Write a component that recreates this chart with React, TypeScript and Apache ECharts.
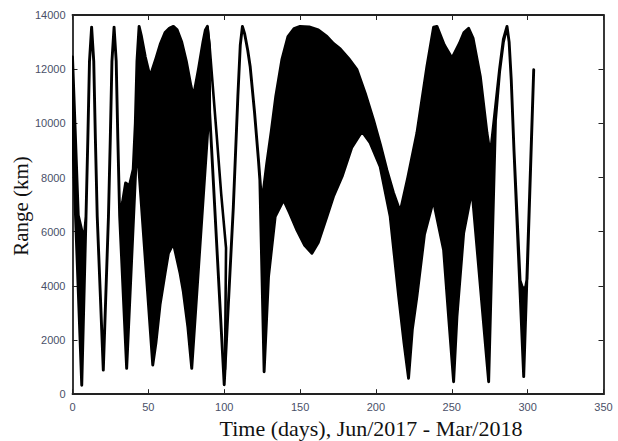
import React, { useEffect, useRef } from "react";
import * as echarts from "echarts";

// Axis tick values
const xTickValues = [0, 50, 100, 150, 200, 250, 300, 350];
const yTickValues = [0, 2000, 4000, 6000, 8000, 10000, 12000, 14000];

// Upper edge of the plotted range trace: [day, range km]
const upperEdge: [number, number][] = [
  [0, 12450], [1.8, 9700], [3.8, 6600], [5.5, 6200], [7.6, 5700], [8.9, 6560],
  [10.1, 9400], [11.2, 12300], [12.6, 13550], [14.0, 12300], [15.1, 9400], [16.3, 6560],
  [20.3, 890], [23.7, 6560], [24.9, 9400], [26.0, 12300], [27.4, 13550], [28.8, 12300],
  [29.9, 9400], [31.1, 6560], [33, 7100], [35, 7800], [37.5, 7700], [40, 8300],
  [41.4, 10000], [42.5, 12300], [43.9, 13580], [45.3, 13250], [48, 12450], [51.1, 11730],
  [55, 12400], [58, 12950], [61, 13350], [64, 13520], [66.5, 13580], [69, 13450],
  [72, 13000], [75, 12300], [78, 11400], [79.7, 10990], [83, 12000], [86, 13000],
  [87.6, 13450], [88.9, 13580], [90.2, 12860], [90.4, 10400], [100, 350], [106, 6900],
  [109, 11000], [110.6, 12900], [112, 13580], [113.5, 13300], [115.5, 12700], [117.1, 12100],
  [120, 10400], [122.5, 8700], [124.8, 7050], [128, 8500], [131, 9700], [134, 11000],
  [138, 12350], [142, 13200], [146, 13500], [150, 13580], [156, 13560], [162, 13450],
  [167.7, 13210], [172, 12950], [176.5, 12750], [182, 12400], [187.5, 11980], [193, 11100],
  [198.4, 10130], [203, 9200], [207.2, 8280], [211.5, 7450], [216, 6740], [221, 8000],
  [227, 9640], [233.6, 12100], [238, 13550], [240.2, 13580], [245, 12900], [250.1, 12410],
  [255, 12950], [258, 13350], [261.1, 13510], [264, 13150], [268.8, 11730], [273.2, 9640],
  [275.4, 8840], [281.5, 12000], [284, 13100], [286.4, 13580], [287.8, 13000], [289.2, 11600],
  [291, 9000], [295, 4200], [296.5, 3950], [298.5, 3900], [299.6, 4250], [304, 11980],
];

// Lower edge of the plotted range trace: [day, range km]
const lowerEdge: [number, number][] = [
  [0, 9600], [6.1, 330], [8.9, 6560], [10.1, 9400], [11.2, 12300], [12.6, 13550],
  [14.0, 12300], [15.1, 9400], [16.3, 6560], [20.3, 890], [23.7, 6560], [24.9, 9400],
  [26.0, 12300], [27.4, 13550], [28.8, 12300], [29.9, 9400], [31.1, 6560], [35.7, 955],
  [42.5, 9300], [52.9, 1080], [55, 1900], [57.7, 3300], [61, 4460], [63.2, 5200],
  [66.5, 5570], [70.9, 4470], [73, 3800], [76, 2500], [78.6, 955], [90.2, 10620],
  [100, 350], [106, 6900], [109, 11000], [110.6, 12900], [112, 13580], [113.5, 13300],
  [115.5, 12700], [117.1, 12100], [120, 10400], [122.5, 8700], [123.5, 7900], [126.3, 830],
  [129.2, 4340], [133.6, 6560], [139.1, 7170], [143, 6700], [148, 6050], [153, 5500],
  [157.8, 5200], [162, 5600], [167.7, 6560], [172, 7300], [177.7, 8040], [184, 9100],
  [190.8, 9700], [196, 9300], [202.8, 8400], [209.4, 6560], [215, 3600], [218.5, 1900],
  [221.5, 590], [224, 2400], [227, 3600], [232, 5900], [238, 7170], [239.1, 6800],
  [244.6, 5330], [247.9, 2860], [251.2, 460], [253.4, 2860], [257.8, 5940], [263.3, 7540],
  [267.7, 4710], [274.3, 460], [278.8, 10100], [281.5, 11900], [284, 13000], [286.4, 13580],
  [287.8, 13000], [289.2, 11600], [291, 9000], [297.4, 650], [304, 11980],
];

// A separate descending strand after the day-89 peak
const strandA: [number, number][] = [
  [88.9, 13580], [90.3, 12900], [92, 11700], [95, 9580], [98, 7400], [101.2, 5400], [100.5, 900],
];

const X_TITLE = "Time (days), Jun/2017 - Mar/2018";
const Y_TITLE = "Range (km)";

export default function App() {
  const ref = useRef<HTMLDivElement>(null);

  useEffect(() => {
    if (!ref.current) return;
    const chart = echarts.init(ref.current, undefined, { renderer: "svg" });
    const frameColor = "#222";
    const labelStyle = {
      fontSize: 11,
      fontFamily: "Liberation Sans",
      color: "#4a5068",
      formatter: (v: number) => String(v),
    };
    const baseX = {
      type: "value" as const,
      min: xTickValues[0],
      max: xTickValues[xTickValues.length - 1],
      interval: 50,
      splitLine: { show: false },
      axisLine: { show: true, onZero: false, lineStyle: { color: frameColor, width: 1.8 } },
      axisTick: { show: true, inside: true, length: 5, lineStyle: { color: frameColor, width: 1 } },
    };
    const baseY = {
      type: "value" as const,
      min: yTickValues[0],
      max: yTickValues[yTickValues.length - 1],
      interval: 2000,
      splitLine: { show: false },
      axisLine: { show: true, onZero: false, lineStyle: { color: frameColor, width: 1.8 } },
      axisTick: { show: true, inside: true, length: 5, lineStyle: { color: frameColor, width: 1 } },
    };

    chart.setOption({
      animation: false,
      backgroundColor: "#fff",
      grid: { left: 72.5, top: 15, width: 531, height: 379.2, containLabel: false },
      xAxis: [
        { ...baseX, position: "bottom", axisLabel: { ...labelStyle, margin: 7 } },
        { ...baseX, position: "top", axisLabel: { show: false } },
      ],
      yAxis: [
        { ...baseY, position: "left", axisLabel: { ...labelStyle, margin: 7 } },
        { ...baseY, position: "right", axisLabel: { show: false } },
      ],
      graphic: [
        {
          type: "text",
          x: 371,
          y: 428,
          style: {
            text: X_TITLE,
            font: '22px "Liberation Serif"',
            fill: "#111",
            textAlign: "center",
            textVerticalAlign: "middle",
            align: "center",
            verticalAlign: "middle",
          },
        },
        {
          type: "text",
          x: 21,
          y: 206,
          rotation: Math.PI / 2,
          style: {
            text: Y_TITLE,
            font: '21px "Liberation Serif"',
            fill: "#111",
            textAlign: "center",
            textVerticalAlign: "middle",
            align: "center",
            verticalAlign: "middle",
          },
        },
      ],
      series: [
        {
          type: "custom",
          xAxisIndex: 0,
          yAxisIndex: 0,
          clip: true,
          data: [[0, 0]],
          renderItem: (_params: any, api: any) => {
            const pts = upperEdge
              .map((p) => api.coord(p))
              .concat(lowerEdge.slice().reverse().map((p) => api.coord(p)));
            return {
              type: "polygon",
              shape: { points: pts },
              style: { fill: "#000", stroke: "#000", lineWidth: 2.9, lineJoin: "round" },
            };
          },
        },
        {
          type: "line",
          xAxisIndex: 0,
          yAxisIndex: 0,
          data: strandA,
          showSymbol: false,
          symbol: "none",
          lineStyle: { color: "#000", width: 2.6, join: "round" },
        },
      ],
    });
    return () => chart.dispose();
  }, []);

  return (
    <div
      ref={ref}
      style={{ position: "fixed", left: 0, top: 0, width: 618, height: 441, background: "#fff" }}
    />
  );
}
